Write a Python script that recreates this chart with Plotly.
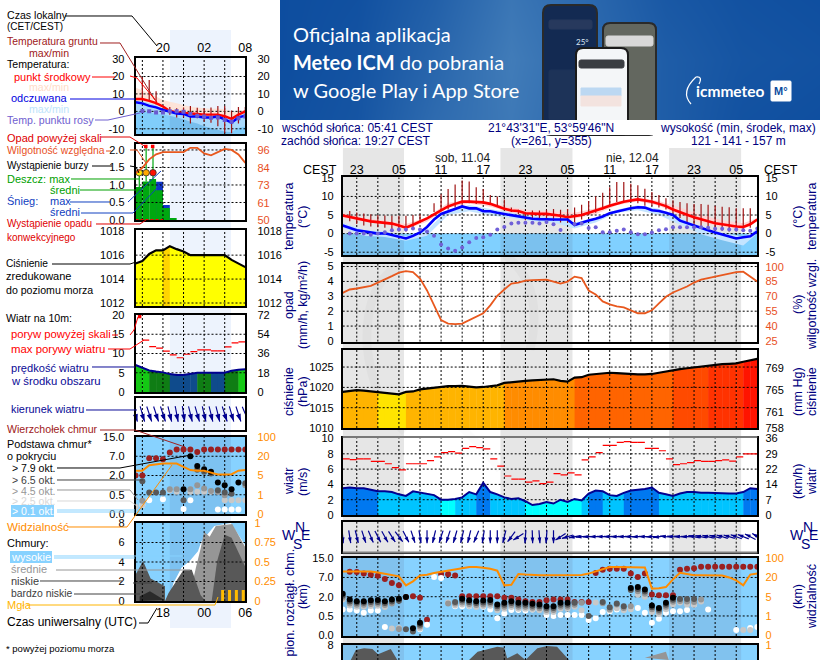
import math

import plotly.graph_objects as go

W, H = 820, 660
FONT = "Liberation Sans"
NAVY = "#000080"
ORANGE = "#ff8c00"
RH_RED = "#e8501e"

# ---- data, right (main) meteogram, hourly, local time from 21:00 on 10.04
hours = list(range(-3, 57))
temp_mid = [4.9, 4.5, 4.0, 3.7, 3.3, 3.1, 3.0, 2.7, 2.2, 1.6, 2.4, 3.2, 4.1, 5.2, 6.3, 7.3, 8.0, 8.6, 8.6, 8.5,
            8.4, 8.0, 7.3, 6.7, 6.2, 6.1, 5.5, 5.3, 5.3, 5.3, 5.1, 4.8, 4.4, 4.6, 5.0, 5.6, 6.1, 6.8, 7.5, 8.1,
            8.6, 8.9, 9.2, 8.9, 8.6, 8.0, 7.4, 6.5, 5.7, 5.1, 4.4, 3.8, 3.3, 2.8, 2.5, 2.1, 1.9, 1.8, 2.5, 3.8]
temp_feel = [2.2, 1.6, 0.9, 0.6, 0.3, 0.0, 0.1, -0.3, -0.9, -1.3, -0.6, 0.3, 1.8, 3.8, 5.3, 6.0, 6.8, 7.3, 6.8, 6.8,
             6.0, 6.0, 5.6, 5.3, 5.0, 4.6, 4.2, 4.0, 3.9, 3.8, 3.8, 3.8, 3.8, 2.3, 3.0, 3.5, 4.0, 4.6, 5.5, 6.0,
             6.5, 6.8, 7.1, 7.0, 6.3, 6.1, 5.6, 5.0, 3.5, 2.8, 2.2, 1.5, 0.9, 0.3, -0.2, -0.8, -1.3, -1.0, -0.7, 0.6]
band_t = [-3, 0, 3, 6, 9, 12, 15, 18, 21, 24, 27, 30, 33, 36, 39, 42, 45, 48, 51, 54, 56]
red_hi = [5.6, 4.2, 3.5, 2.6, 4.4, 8.3, 9.0, 8.3, 7.0, 6.2, 6.0, 5.6, 6.8, 8.6, 9.8, 8.8, 7.0, 5.0, 3.6, 2.8, 4.2]
red_lo = [4.3, 3.2, 2.5, 1.2, 3.2, 7.0, 8.1, 7.2, 5.7, 4.9, 4.3, 4.1, 5.2, 7.6, 8.7, 7.5, 5.0, 3.0, 1.8, 1.2, 3.3]
blue_hi = [2.9, 1.0, 0.6, -0.8, 1.0, 6.4, 7.7, 6.6, 5.6, 4.7, 4.4, 3.0, 4.2, 6.4, 7.6, 6.7, 4.3, 1.6, 0.2, -0.8, 1.2]
blue_lo = [1.5, -0.6, -0.9, -1.9, -0.6, 5.0, 6.0, 4.9, 4.2, 3.3, 3.0, 1.4, 3.0, 5.6, 6.3, 5.0, 2.4, -0.2, -1.8, -3.2, 0.0]
ground_max = [None, 6.1, 5.7, 5.4, 5.2, 5.0, 4.9, 4.8, 4.8, 4.8, 5.0, 5.2, None, 8.2, 10.6, 12.0, 13.2, 14.3, 14.0, 12.5,
              12.0, 10.4, 10.0, 9.2, 7.0, 6.4, 5.8, 6.2, 6.2, 6.4, 6.6, 6.4, 6.6, 7.0, 7.8, 8.8, 10.0, 11.0, 12.5, 13.9,
              13.9, 13.4, 13.0, 12.1, 11.2, 10.4, 9.5, 9.0, 8.5, 8.2, 8.0, 8.0, 7.8, 7.5, 7.2, 7.1, 6.8, 6.8, 6.8, None]
ground_min = [None, 3.3, 2.6, 2.2, 1.9, 1.7, 1.6, 1.2, 0.6, 0.6, 1.6, 3.0, None, 5.8, 6.2, 6.5, 7.0, 7.8, 8.2, 8.0,
              8.0, 8.0, 7.5, 6.6, 5.8, 5.2, 3.6, 4.0, 4.0, 3.6, 3.4, 3.0, 2.9, 3.0, 3.8, 5.0, 5.6, 6.5, 7.5, 8.5,
              8.6, 8.6, 8.2, 7.5, 7.5, 7.0, 6.5, 5.5, 4.2, 3.0, 2.2, 1.8, 1.5, 1.0, 0.8, 0.6, 0.6, 0.6, 1.6, None]
dew_point = [None, 0.0, 0.0, 0.0, -0.3, 0.0, 0.4, 0.9, 1.1, 1.1, 1.4, 1.1, 0.6, -0.6, -2.9, -4.0, -4.6, -3.7, -2.3, -1.2,
             -1.0, -0.3, 1.1, 1.8, 2.7, 2.9, 2.9, 2.9, 2.7, 3.1, 2.5, 1.0, None, 2.6, 2.7, 1.5, 1.7, 0.4, 0.4, 0.8,
             1.1, 0.4, -0.2, -0.2, 0.3, 0.9, 1.2, 1.7, 1.7, 1.7, 1.7, 1.7, 1.6, 1.3, 1.3, 1.1, 1.1, 0.9, 0.8, 1.4]
humidity = [73.6, 77, 78, 79, 80.7, 84, 87, 90.5, 94, 95.6, 94.6, 88, 76, 61, 46, 42.6, 42, 42.6, 46, 49,
            53, 61, 70.6, 77, 83, 84, 86, 86.5, 87, 87, 85, 83, 85, 90, 88.5, 76, 72, 65, 62, 60,
            59, 56, 53, 53, 56, 63, 69.6, 74, 77, 80, 84, 87, 88.5, 90, 91.6, 93, 94.6, 95, 90, 85]
pressure = [1018.9, 1019.1, 1019.3, 1019.2, 1019.0, 1018.8, 1018.7, 1018.5, 1018.3, 1018.9, 1019.0, 1019.5, 1019.7, 1019.9, 1020.2, 1020.3, 1020.3, 1020.4, 1020.2, 1020.0,
            1020.1, 1020.3, 1020.5, 1021.1, 1021.3, 1021.5, 1021.6, 1021.7, 1021.8, 1022.0, 1022.0, 1021.6, 1021.4, 1022.4, 1022.5, 1023.1, 1023.3, 1023.5, 1023.6, 1023.5,
            1023.4, 1023.2, 1023.2, 1023.2, 1023.3, 1023.6, 1023.9, 1024.3, 1024.5, 1024.7, 1024.9, 1025.2, 1025.4, 1025.5, 1025.7, 1025.8, 1025.9, 1026.3, 1026.7, 1027.0]
wind = [3.5, 3.6, 3.5, 3.5, 3.3, 3.1, 3.1, 3.0, 2.7, 2.5, 3.1, 2.9, 2.7, 2.6, 2.0, 2.0, 2.1, 2.3, 3.0, 2.7,
        4.2, 3.0, 2.7, 2.3, 2.1, 2.2, 1.8, 1.3, 1.45, 1.7, 1.5, 2.0, 1.7, 2.1, 1.9, 2.8, 3.2, 3.1, 2.6, 2.5,
        2.9, 3.2, 3.3, 3.4, 3.6, 2.9, 2.7, 2.5, 2.8, 3.0, 3.0, 2.9, 2.9, 2.9, 2.85, 2.8, 2.8, 3.0, 3.5, 3.4]
gust = [7.35, 7.25, 7.35, 7.35, 7.0, 7.0, 6.7, 6.2, 5.9, 6.7, 6.7, 6.7, 7.1, 7.6, 8.15, 8.3, 8.1, 8.7, 8.95, 8.8,
        8.65, 7.35, 6.4, 5.1, 4.7, 4.7, 4.3, 4.45, 4.1, 4.3, 5.4, 5.25, 5.5, 5.25, 7.2, 7.6, 8.15, 9.1, 9.1, 9.5,
        9.6, 9.5, 9.5, 8.7, 8.7, 8.4, 7.35, 6.6, 6.7, 6.85, 7.1, 7.0, 7.0, 7.1, 7.2, 7.05, 7.6, 8.0, 8.0]
wind_dir = [175, 170, 165, 160, 155, 150, 148, 145, 140, 150, 160, 170, 180, 195, 200, 200, 198, 195, 195, 205,
            190, 180, 180, 195, 220, 240, 185, 178, 175, 185, 180, 240, 255, 260, 265, 268, 270, 272, 272, 272,
            272, 272, 270, 272, 270, 262, 275, 275, 275, 272, 280, 280, 282, 282, 285, 285, 288, 290, 295, 300]
cloud_top = [None, 3.3, 3.28, 3.21, 3.14, 3.09, 2.92, 2.71, 2.59, 1.99, 2.03, 1.94, 0.81, None, 3.18, 3.16, 3.1, 2.03, 2.03, 2.03,
             2.03, 2.03, 2.03, 1.94, 1.94, 1.85, 1.77, 1.72, 1.72, 1.82, 1.85, 1.85, 1.85, 1.72, 1.72, 1.72, 3.23, 3.4, 3.45, 3.45,
             3.45, 3.2, 3.02, 3.2, 2.11, 2.07, 2.07, 2.07, 3.4, 3.45, 3.48, 3.55, 3.55, 3.55, 3.55, 3.55, 3.55, 3.55, 3.55, 3.55]
base_79 = [2.15, 1.85, 1.77, 1.77, 1.82, 1.83, 1.77, 1.85, 1.89, 1.99, 0.36, 0.65, None, None, None, None, None, 1.89, 1.82, 1.77,
           1.8, 1.83, 1.6, 1.68, 1.77, 1.68, 1.68, 1.63, 1.6, 1.51, 1.51, 1.68, 1.68, None, None, None, None, None, None, None,
           None, 2.45, 2.5, 2.37, 1.55, 1.42, 1.68, 1.94, None, None, None, None, None, None, None, None, None, None, None, None]
base_65 = [2.05, 1.75, 1.68, 1.68, 1.72, 1.73, 1.67, 1.75, 1.79, 0.31, 0.2, 0.55, None, None, None, None, 1.73, 1.8, 1.72, 1.67,
           1.7, 1.73, 1.5, 1.58, 1.67, 1.58, 1.58, 1.53, 1.5, 1.41, 1.41, 1.58, 1.58, 1.68, None, 1.0, None, 1.72, 1.45, 1.65,
           1.5, 2.35, 2.4, 2.27, 1.45, 1.32, 1.58, 1.84, 1.88, 1.88, 1.88, None, None, None, None, None, None, None, None, None]
base_45 = [1.95, 1.65, 1.58, 1.58, 1.62, 1.63, 1.57, 1.65, 0.32, None, None, 0.45, None, None, None, 1.65, 1.65, 1.7, 1.62, 1.57,
           1.6, 1.63, 1.4, 1.48, 1.57, 1.48, 1.48, 1.43, 1.4, 1.31, 1.31, 1.48, 1.48, 1.58, 1.68, None, None, 1.66, 1.35, 1.6,
           1.42, 1.5, 2.28, 2.15, 1.35, 1.22, 1.48, 1.74, 1.78, 1.75, 1.72, 1.85, None, None, None, None, None, None, None, None]
base_25 = [1.85, 1.55, 1.48, 1.48, 1.52, 1.53, 1.47, 0.35, 0.38, None, None, 0.35, None, None, None, 1.7, 1.55, 1.6, 1.52, 1.47,
           1.5, 1.53, 1.3, 1.38, 1.47, 1.38, 1.38, 1.33, 1.3, 1.21, 1.21, 1.38, 1.38, 1.48, 1.3, None, 1.7, None, 1.3, 1.4,
           1.3, 1.35, 2.1, 2.0, 1.2, 1.1, 1.35, 1.6, 1.7, 1.6, 1.6, 1.75, None, None, None, None, None, 0.27, 0.27, None]
base_01 = [1.34, 1.34, 1.29, 1.17, 1.29, 1.29, 0.43, None, None, None, None, 0.31, 0.55, 3.02, 2.97, None, 1.51, 1.51, 1.51, 1.51,
           1.48, 1.34, 0.88, 1.13, 1.31, 1.31, 1.29, 1.34, 1.34, 1.05, 1.0, 1.05, 1.05, 1.05, 1.05, 0.79, 0.88, 1.2, 1.25, 1.34,
           1.34, 1.42, 1.42, 1.17, 0.65, 0.86, 1.17, 1.25, 1.25, 1.31, 1.6, None, 1.34, None, None, None, 0.27, None, 0.38, 0.43]
visibility = [3.31, 3.31, 3.31, 3.31, 3.31, 3.26, 3.2, 3.13, 3.06, 2.59, 2.8, 3.1, 3.14, 3.23, 3.3, 3.37, 3.43, 3.48, 3.54, 3.54,
              3.5, 3.45, 3.35, 2.59, 2.62, 3.18, 3.15, 3.12, 3.12, 3.12, 3.12, 3.12, 3.13, 3.13, 3.13, 3.2, 3.31, 3.42, 3.54, 3.54,
              3.54, 3.54, 3.52, 3.52, 2.42, 2.44, 2.5, 2.9, 3.24, 3.18, 3.12, 3.12, 3.12, 3.12, 3.1, 3.0, 2.85, 2.59, 3.15, 3.2]
cloud_a_t = [-1.85, -1.14, 0.04, 1.23, 2.03, 3.84, 4.78]
cloud_a_v = [6.46, 7.49, 7.66, 7.59, 7.04, 7.59, 6.46]
cloud_b_t = [14.98, 16.2, 19, 20, 20.4, 21.85, 23, 24.7, 26.1, 27.5, 29.2]
cloud_b_v = [6.46, 7.3, 7.83, 7.72, 6.63, 7.15, 6.46, 7.66, 7.9, 7.83, 6.46]
cloud_c_t = [40, 41, 43, 43.4]
cloud_c_v = [6.7, 6.9, 7.3, 6.46]

# ---- data, left (short) meteogram, hourly, UTC
l_hours = list(range(14, 31))
l_temp = [7.1, 7.1, 6.0, 4.7, 2.8, 0.2, -0.6, -0.8, -1.0, -1.5, -1.9, -1.9, -1.9, -2.8, -4.3, -1.9, 0.0]
l_feel = [5.2, 4.6, 3.1, 2.3, 0.8, -0.2, -1.2, -1.5, -3.0, -3.0, -3.5, -3.5, -3.0, -4.6, -6.5, -3.5, -2.5]
l_temp_hi = [13.7, 12.0, 10.4, 8.5, 6.5, 5.5, 4.6, 3.6, 2.7, 2.2, 1.8, 1.5, 1.6, 1.0, -0.2, 0.2, 0.8]
l_temp_lo = [6.0, 5.8, 4.8, 3.5, 1.5, -0.3, -1.2, -1.5, -1.8, -2.2, -2.6, -2.8, -2.8, -3.6, -5.2, -3.0, -1.0]
l_feel_lo = [0.5, 0.0, -0.5, -1.5, -1.8, -2.5, -3.5, -4.5, -6.0, -7.0, -8.5, -9.5, -10.5, -11.5, -12.0, -9.5, -8.5]
l_ground_max = [None, 19.5, 18.0, 11.5, None, 2.5, 1.8, 2.2, 3.0, 2.0, 1.8, 2.2, 3.0, 3.0, 0.5, 2.5, 2.5]
l_ground_min = [None, 7.0, 6.0, 4.0, None, -2.0, -3.5, -3.5, -7.0, -4.0, -6.0, -6.5, -8.5, -12.5, -12.5, -7.0, -3.0]
l_dew = [None, 0.2, 0.0, -0.7, -0.7, 0.0, 0.0, -0.3, -1.5, -2.5, -3.0, -3.7, -3.5, -5.0, -6.0, -4.0, -3.0]
l_rain_mean = [0.94, 1.1, 1.17, 0.85, 0.34, 0.06]
l_snow_mean = [0.0, 0.0, 0.0, 1.09, 0.43, 0.0]
l_over_t = [15.5, 16.5]
l_over_v = [2.1, 2.1]
l_storm_t = [14.55, 15.55, 16.55]
l_storm_y = [1.35, 1.35, 1.35]
l_humidity = [80.6, 84.3, 89.8, 93.1, 94.6, 94.6, 94.6, 94.6, 97.4, 97.4, 93.7, 92.5, 94.6, 96.7, 96.0, 93.0, 87.5]
l_pressure = [1015.3, 1015.5, 1016.1, 1016.4, 1016.4, 1016.75, 1016.5, 1016.3, 1016.0, 1016.0, 1016.0, 1016.0, 1016.0, 1016.0, 1015.6, 1015.3, 1015.0]
l_wind = [7.0, 6.4, 5.6, 5.3, 5.1, 4.65, 4.4, 4.4, 4.7, 5.0, 5.0, 5.0, 5.0, 5.0, 5.5, 5.8, 5.9]
l_gust = [None, 13.5, 11.8, 11.4, 10.6, 9.65, 8.9, 9.8, 10.5, 10.95, 10.95, 10.7, 10.7, 11.7, 12.75, 13.0]
l_wind_dir = [165, 162, 160, 160, 160, 165, 168, 170, 165, 162, 165, 165, 165, 160, 162, 160, 155]
l_top = [2.0, 2.0, 2.9, 2.9, 2.85, 3.2, 3.35, 3.35, 3.35, 3.22, 3.35, 3.35, 3.35, 3.35, 3.35, 3.35, 3.35]
l_79 = [None, None, None, None, None, None, None, 1.28, 3.0, 2.5, 2.33, 2.2, 1.64, 1.5, 1.28, 1.64, None]
l_65 = [None, 1.7, 1.12, 1.12, 1.12, None, None, 0.72, None, 2.3, 2.2, 2.1, 1.24, 1.12, 1.05, None, 1.6]
l_45 = [None, 0.69, None, None, None, 1.28, 1.28, None, 1.28, 1.5, 1.33, 1.2, 1.16, 0.98, None, None, 1.5]
l_25 = [0.38, 0.47, None, None, None, 1.24, 1.16, None, 1.16, 1.16, 1.16, 1.16, 1.16, 0.72, 0.72, 0.72, 0.72]
l_01 = [None, 0.47, 0.72, None, 0.76, None, None, 0.26, 0.72, None, None, None, 0.24, 0.24, 0.24, 0.24, None]
l_vis = [2.25, 2.25, 2.53, 2.58, 2.62, 2.62, 2.62, 2.45, 2.28, 2.25, 2.25, 2.15, 2.05, 2.05, 2.07, 2.25, 2.28]
l_high_t = [21.9, 18.9, 19.5, 20.7, 21.9, 23.1, 23.6, 25.5, 27.9, 30, 30]
l_high_v = [0, 0, 1.8, 3.4, 4.1, 5.1, 6.1, 7.7, 8, 5.7, 0]
l_mid_t = [21.7, 22.8, 23.5, 24, 24.8, 25.7, 28.1, 30, 30]
l_mid_v = [0, 3.4, 5.4, 7.1, 6.6, 7.7, 7.9, 5.5, 0]
l_low1_t = [14, 15.1, 16.2, 18.3, 18.3, 14]
l_low1_v = [2.7, 4.1, 2.3, 1.5, 0, 0]
l_low2_t = [18.3, 18.8, 21, 22.2, 23.5, 24.2]
l_low2_v = [0, 0.8, 3.2, 3.2, 0.6, 0]
l_low3_t = [25.1, 25.9, 27, 28, 30, 30]
l_low3_v = [0, 4.1, 6.8, 6.5, 3.5, 0]
l_vlow_t = [14.6, 16.1, 18.2, 14.6]
l_vlow_v = [0.45, 1.0, 0.1, 0]
l_fog_t = [26.7, 27.7, 28.7, 29.7]
l_fog_v = [1.13, 1.13, 1.13, 1.13]

# ---- tick labels
l_temp_ticks = [30, 20, 10, 0, -10]
l_rain_ticks = [2.0, 1.5, 1.0, 0.5, 0.0]
l_rh_ticks = [96, 84, 73, 61, 50]
l_press_ticks = [1018, 1016, 1014, 1012]
l_wind_ticks = [20, 15, 10, 5, 0]
l_kmh_ticks = [72, 54, 36, 18, 0]
cb_levels = [4, 3, 2, 1, 0]
cb_km = ["15.0", "7.0", "2.0", "0.5", "0.0"]
vis_km = ["100", "20", "5", "1", "0"]
cl_ticks = [8, 6, 4, 2, 0]
cl_right = ["1", "0.75", "0.5", "0.25", "0"]
r_temp_ticks = [15, 10, 5, 0, -5]
r_rain_ticks = [5, 4, 3, 2, 1, 0]
r_rh_ticks = [100, 85, 70, 55, 40, 25]
r_press_ticks = [1025, 1020, 1015, 1010]
r_mmhg = ["769", "765", "761", "758"]
r_wind_ticks = [10, 8, 6, 4, 2, 0]
r_kmh = ["36", "29", "22", "14", "7", "0"]
hour_t = [-1, 5, 11, 17, 23, 29, 35, 41, 47, 53]
hour_lab = ["23", "05", "11", "17", "23", "05", "11", "17", "23", "05"]

# ---- page geometry
LX0, LX1 = 135.5, 245.3
RX0, RX1 = 342.7, 757.3
LR, RR = [14, 30], [-3, 56]
L_GRID = [15, 18, 21, 24, 27]
R_GRID = list(range(-1, 56, 3))
NIGHTS = [(-3, 5.72), (19.45, 29.7), (43.45, 53.7)]

fig = go.Figure()
layout = {}
shapes = []
notes = []


def px(x):
    return x / W


def py(y):
    return 1 - y / H


def panel(n, left, right, top, bottom, xr, yr, ticks=(), labels=None, rticks=None, rlabels=None,
          rr=None, rcolor="black", xticks=(), xlabels=(), xside="bottom", pad=6, rpad=6, xshift=-3):
    edge = dict(showline=True, linecolor="black", linewidth=1.6, mirror=True, automargin=False)
    layout[f"xaxis{n}"] = dict(domain=[px(left), px(right)], range=xr, anchor=f"y{n}", showgrid=False, zeroline=False,
                               tickvals=list(xticks), ticktext=list(xlabels), side=xside, ticks="", ticklabelstandoff=xshift,
                               tickfont=dict(size=12.5), **edge)
    layout[f"yaxis{n}"] = dict(domain=[max(py(bottom), 0), py(top)], range=yr, anchor=f"x{n}", showgrid=False, zeroline=False,
                               tickvals=list(ticks), ticktext=labels if labels else [str(v) for v in ticks], ticks="outside",
                               ticklen=pad, tickcolor="rgba(0,0,0,0)", tickfont=dict(size=11), **edge)
    if rticks is not None:
        layout[f"yaxis{n + 20}"] = dict(overlaying=f"y{n}", side="right", range=rr if rr else yr, anchor=f"x{n}", showgrid=False,
                                        zeroline=False, automargin=False, tickvals=list(rticks),
                                        ticktext=rlabels if rlabels else [str(v) for v in rticks],
                                        ticks="outside", ticklen=rpad, tickcolor="rgba(0,0,0,0)", tickfont=dict(size=11, color=rcolor))
        fig.add_trace(go.Scatter(x=[None], y=[None], xaxis=f"x{n}", yaxis=f"y{n + 20}", showlegend=False))


def line(n, x, y, color, width=2, yn=None, dash=None):
    fig.add_trace(go.Scatter(x=x, y=y, mode="lines", xaxis=f"x{n}", yaxis=f"y{yn or n}", showlegend=False, hoverinfo="skip",
                             line=dict(color=color, width=width, dash=dash)))


def area(n, x, y, color):
    fig.add_trace(go.Scatter(x=x, y=y, mode="none", fill="toself", fillcolor=color, xaxis=f"x{n}", yaxis=f"y{n}",
                             showlegend=False, hoverinfo="skip"))


def dots(n, x, y, color, size=6, symbol="circle"):
    fig.add_trace(go.Scatter(x=x, y=y, mode="markers", xaxis=f"x{n}", yaxis=f"y{n}", showlegend=False, hoverinfo="skip",
                             marker=dict(color=color, size=size, symbol=symbol, line=dict(width=0))))


def grid(n, xs, ys, xr, yr):
    gx, gy = [], []
    for v in xs:
        gx += [v, v, None]
        gy += [yr[0], yr[1], None]
    for v in ys:
        gx += [xr[0], xr[1], None]
        gy += [v, v, None]
    line(n, gx, gy, "black", 1, dash="2px,2px")


def rect(n, x0, x1, y0, y1, color, layer="below"):
    shapes.append(dict(type="rect", xref=f"x{n}", yref=f"y{n}", x0=x0, x1=x1, y0=y0, y1=y1, fillcolor=color,
                       line=dict(width=0), layer=layer))


def note(x, y, text, color="black", size=10.6, anchor="left", angle=0, bg=None, family=FONT, yanchor="middle"):
    notes.append(dict(x=px(x), y=py(y), xref="paper", yref="paper", text=text, showarrow=False, xanchor=anchor, yanchor=yanchor,
                      textangle=angle, font=dict(color=color, size=size, family=family), bgcolor=bg, borderpad=0))


def lead(pts, color="black", width=1):
    d = "M" + " L".join(f"{px(x):.5f},{py(y):.5f}" for x, y in pts)
    shapes.append(dict(type="path", path=d, xref="paper", yref="paper", line=dict(color=color, width=width), layer="above"))


def page_rect(x0, y0, x1, y1, color):
    shapes.append(dict(type="rect", xref="paper", yref="paper", x0=px(x0), x1=px(x1), y0=py(y0), y1=py(y1),
                       fillcolor=color, line=dict(width=0), layer="above"))


def rrect(x0, y0, x1, y1, r, fill, edge=None, lw=1):
    a, b, c, d = px(x0), px(x1), py(y0), py(y1)
    rx, ry = r / W, r / H
    path = (f"M{a + rx},{c} L{b - rx},{c} Q{b},{c} {b},{c - ry} L{b},{d + ry} Q{b},{d} {b - rx},{d} "
            f"L{a + rx},{d} Q{a},{d} {a},{d + ry} L{a},{c - ry} Q{a},{c} {a + rx},{c} Z")
    shapes.append(dict(type="path", path=path, xref="paper", yref="paper", fillcolor=fill, layer="above",
                       line=dict(color=edge or fill, width=lw)))


def curve(pts, color, width, layer="below"):
    # quadratic arc through page pixels, for the faint logo swirls
    (x0, y0), (x1, y1), (x2, y2) = pts
    d = f"M{px(x0)},{py(y0)} Q{px(x1)},{py(y1)} {px(x2)},{py(y2)}"
    shapes.append(dict(type="path", path=d, xref="paper", yref="paper", line=dict(color=color, width=width), layer=layer))


def arrows(n, ts, dirs, half, xscale, head, color="#000090", width=1.2):
    lx, ly, hx, hy = [], [], [], []
    for t, d in zip(ts, dirs):
        s, c = math.sin(math.radians(d)), math.cos(math.radians(d))
        x1, y1 = t + s * half * xscale, c * half
        lx += [t - s * half * xscale, x1, None]
        ly += [-c * half, y1, None]
        hx.append(x1)
        hy.append(y1)
    fig.add_trace(go.Scatter(x=lx, y=ly, mode="lines", xaxis=f"x{n}", yaxis=f"y{n}", showlegend=False, hoverinfo="skip",
                             cliponaxis=False, line=dict(color=color, width=width)))
    fig.add_trace(go.Scatter(x=hx, y=hy, mode="markers", xaxis=f"x{n}", yaxis=f"y{n}", showlegend=False, hoverinfo="skip", cliponaxis=False,
                             marker=dict(color=color, size=head, symbol="arrow", angle=list(dirs), angleref="up", line=dict(width=0))))


# ---- paper background: night bands behind everything
shapes.append(dict(type="rect", xref="paper", yref="paper", x0=px(170), x1=px(231), y0=py(30), y1=py(628),
                   fillcolor="#edf3fd", line=dict(width=0), layer="below"))
for a, b in NIGHTS:
    shapes.append(dict(type="rect", xref="x8", yref="paper", x0=a, x1=b, y0=0, y1=py(148),
                       fillcolor="#e6e6e6", line=dict(width=0), layer="below"))
curve([(367, 345), (365, 280), (405, 262)], "rgba(0,0,0,0.025)", 9)
curve([(367, 345), (372, 400), (405, 432)], "rgba(0,0,0,0.025)", 9)
curve([(505, 255), (545, 285), (530, 350)], "rgba(0,0,0,0.025)", 9)
curve([(405, 395), (455, 410), (500, 470)], "rgba(0,0,0,0.015)", 8)

# ---- banner
fig.add_trace(go.Heatmap(z=[[0.05, 0.15, 0.55, 0.8, 0.5, 0.3, 0.1, 0.05], [0.02, 0.12, 0.45, 0.85, 0.55, 0.3, 0.15, 0.1],
                            [0.02, 0.08, 0.35, 0.75, 0.5, 0.22, 0.1, 0.05]],
                         x=[280, 357, 434, 511, 588, 665, 742, 820], y=[120, 60, 0], zsmooth="best", showscale=False,
                         hoverinfo="skip", colorscale=[[0, "#0c4c9e"], [1, "#4a84bd"]], zmin=0, zmax=1, xaxis="x40", yaxis="y40"))
layout["xaxis40"] = dict(domain=[px(280), 1], range=[280, 820], visible=False, anchor="y40", automargin=False)
layout["yaxis40"] = dict(domain=[py(120), 1], range=[120, 0], visible=False, anchor="x40", automargin=False)
rrect(543, 5, 597, 135, 8, "#132a52", "#2a2a2a", 2)
rrect(549, 20, 592, 29, 2, "#27395d")
rrect(549, 70, 592, 120, 2, "#1d3358")
rrect(603, 23, 656, 135, 7, "#63675f", "#2a2a2a", 2)
rrect(606, 36, 653, 46, 2, "#d8d8d8")
rrect(576, 48, 628, 135, 7, "#f4f6f8", "#1b1b1b", 2)
rrect(579, 60, 624, 68, 2, "#3a3d42")
rrect(581, 88, 621, 96, 0, "#bcd8f2")
rrect(581, 96, 621, 106, 0, "#f3e3df")
rrect(771, 81, 791, 101, 1, "#ffffff")
curve([(691, 104), (680, 92), (696, 77)], "white", 1.2, "above")
curve([(696, 77), (703, 76), (699, 84)], "white", 1.2, "above")
page_rect(280, 120, 820, 135, "white")

# ---- right meteogram panels
panel(8, RX0, RX1, 177.3, 255, RR, [-5.75, 15.15], r_temp_ticks, None, r_temp_ticks, None, pad=5, rpad=5,
      xticks=hour_t, xlabels=hour_lab, xside="top")
panel(9, RX0, RX1, 264, 341.7, RR, [-0.05, 5.17], r_rain_ticks, None, r_rh_ticks, None, rr=[24.25, 102.75], rcolor=RH_RED, pad=5, rpad=5)
panel(10, RX0, RX1, 350, 428, RR, [1010, 1029.2], r_press_ticks, None, [769, 765, 761, 758], r_mmhg, rr=[758, 772.4], pad=5, rpad=5)
panel(11, RX0, RX1, 438.3, 515, RR, [0, 10.03], r_wind_ticks, None, r_wind_ticks, r_kmh, pad=5, rpad=5)
panel(12, RX0, RX1, 521.7, 551.7, RR, [-15, 15])
panel(13, RX0, RX1, 558, 636, RR, [-0.04, 4.01], cb_levels, cb_km, cb_levels, vis_km, rcolor=ORANGE, pad=5, rpad=5)
panel(14, RX0, RX1, 645, 660, RR, [6.46, 8.0], [8], ["8"], [8], ["1"], rcolor=ORANGE, pad=5, rpad=5)

# ---- left meteogram panels
panel(1, LX0, LX1, 57.5, 134, LR, [-13, 30.9], l_temp_ticks, None, l_temp_ticks, None, pad=7, rpad=9,
      xticks=[18, 24, 30], xlabels=["20", "02", "08"], xside="top", xshift=-1)
panel(2, LX0, LX1, 144, 220, LR, [0, 2.17], l_rain_ticks, ["2.0", "1.5", "1.0", "0.5", "0.0"], l_rh_ticks, None,
      rr=[50, 99.9], rcolor=RH_RED, pad=7, rpad=9)
panel(3, LX0, LX1, 230, 306, LR, [1011.75, 1018.1], l_press_ticks, None, l_press_ticks, None, pad=7, rpad=9)
panel(4, LX0, LX1, 315, 392, LR, [0, 20], l_wind_ticks, None, l_wind_ticks, [str(v) for v in l_kmh_ticks], pad=7, rpad=9)
panel(5, LX0, LX1, 398, 430, LR, [-16, 16])
panel(6, LX0, LX1, 437, 514, LR, [0, 4.0], cb_levels, cb_km, cb_levels, vis_km, rcolor=ORANGE, pad=7, rpad=9)
panel(7, LX0, LX1, 523, 601, LR, [0, 8], cl_ticks, None, cl_ticks, cl_right, rcolor=ORANGE, pad=7, rpad=6,
      xticks=[18, 24, 30], xlabels=["18", "00", "06"], xshift=-1)

# R1 temperature
rect(8, -3, 56, -5.75, 0, "#80d0ff")
for a, b in NIGHTS:
    rect(8, a, b, -5.75, 0, "rgba(90,90,120,0.13)")
area(8, band_t + band_t[::-1], red_hi + red_lo[::-1], "#ffd4d4")
area(8, band_t + band_t[::-1], blue_hi + blue_lo[::-1], "#c4e4ff")
grid(8, R_GRID, [10, 5, 0, -5], RR, [-5.75, 15.15])
gx, gy = [], []
for t, a, b in zip(hours, ground_max, ground_min):
    if a is not None:
        gx += [t, t, None]
        gy += [a, b, None]
line(8, gx, gy, "#a01414", 1.2)
line(8, hours, temp_mid, "#ff0000", 2.6)
line(8, hours, temp_feel, "#0000ff", 2.6)
dots(8, hours, dew_point, "#7060d8", 4)

# R2 humidity
grid(9, R_GRID, r_rain_ticks[:-1], RR, [-0.05, 5.17])
line(9, hours, humidity, "#e8581e", 1.8, yn=29)

# R3 pressure
p_steps = [(1018.85, "#ffe400"), (1020.9, "#ffb400"), (1022.3, "#ff8c00"), (1024, "#ff6400"),
           (1025.3, "#ff4a00"), (1026, "#ff3200"), (2000, "#ff1400")]
for i in range(len(hours) - 1):
    col = next(c for lim, c in p_steps if pressure[i] < lim)
    right = hours[i + 1] + (0.06 if i < len(hours) - 2 else 0)
    area(10, [hours[i], right, right, hours[i]], [1010, 1010, pressure[i + 1], pressure[i]], col)
grid(10, R_GRID, [1025, 1020, 1015], RR, [1010, 1029.2])
line(10, hours, pressure, "black", 2.2)

# R4 wind
for i in range(len(hours) - 1):
    top = max(wind[i], wind[i + 1])
    col = "#00ffff" if top < 2.15 else "#00c4ff" if top < 3.15 else "#0078f0"
    right = hours[i + 1] + (0.06 if i < len(hours) - 2 else 0)
    area(11, [hours[i], right, right, hours[i]], [0, 0, wind[i + 1], wind[i]], col)
grid(11, R_GRID, [8, 6, 4, 2], RR, [0, 10.03])
line(11, hours, wind, "#000090", 2)
gx, gy = [], []
for t, v in zip(hours, gust):
    gx += [t, t + 1, None]
    gy += [v, v, None]
line(11, gx, gy, "#ff0000", 1.2)

# R5 wind direction
grid(12, R_GRID, [], RR, [-15, 15])
arrows(12, hours, wind_dir, 6.5, 1 / 7.03 * 0.9, 6)
lead([(RX0, 552.5), (RX1, 552.5)], "#808080", 2)
lead([(RX0, 437), (RX1, 437)], "#a0a0a0", 1.5)

# R6 cloud base
rect(13, -3, 56, -0.04, 4.01, "#87d2ff")
for a, b in NIGHTS:
    rect(13, a, b, -0.04, 4.01, "rgba(90,90,120,0.13)")
grid(13, R_GRID, [3, 2, 1], RR, [-0.04, 4.01])
dots(13, hours, cloud_top, "#9b2020")
dots(13, hours, base_01, "white")
dots(13, hours, base_25, "#c8c8c8")
dots(13, hours, base_45, "#969696")
dots(13, hours, base_65, "#585858")
dots(13, hours, base_79, "black")
line(13, hours, visibility, ORANGE, 2)

# R7 clouds
rect(14, -3, 56, 6.46, 8, "#87d2ff")
for a, b in NIGHTS:
    rect(14, a, b, 6.46, 8, "rgba(90,90,120,0.13)")
area(14, cloud_a_t, cloud_a_v, "#585858")
area(14, cloud_b_t, cloud_b_v, "#585858")
area(14, cloud_c_t, cloud_c_v, "#969696")
grid(14, R_GRID, [], RR, [6.46, 8])

# L1 temperature
rect(1, 14, 30, -13, 0, "#80cdfb")
rect(1, 19, 27.9, -13, 0, "rgba(60,80,140,0.12)")
area(1, l_hours + l_hours[::-1], l_temp_hi + l_temp_lo[::-1], "#fde3d8")
area(1, l_hours + l_hours[::-1], l_temp_lo + l_feel_lo[::-1], "#a9d9fb")
grid(1, L_GRID, [20, 10, 0, -10], LR, [-13, 30.9])
gx, gy = [], []
for t, a, b in zip(l_hours, l_ground_max, l_ground_min):
    if a is not None:
        gx += [t, t, None]
        gy += [a, b, None]
line(1, gx, gy, "#a01414", 1.2)
line(1, l_hours, l_temp, "#ff0000", 2.4)
line(1, l_hours, l_feel, "#0000ff", 2.4)
dots(1, l_hours, l_dew, "#6a5ad0", 4, "square")

# L2 precipitation
bin_mid = [h + 0.5 for h in l_hours[:6]]
fig.add_trace(go.Bar(x=bin_mid, y=l_snow_mean, width=1, marker=dict(color="#1034c8", line=dict(width=0)), xaxis="x2", yaxis="y2", showlegend=False))
fig.add_trace(go.Bar(x=bin_mid, y=l_rain_mean, width=1, marker=dict(color="#00a810", line=dict(width=0)), xaxis="x2", yaxis="y2", showlegend=False))
grid(2, L_GRID, [2, 1.5, 1, 0.5], LR, [0, 2.17])
line(2, [14.55, 14.55, None, 15.55, 15.55, None, 16.55, 16.55], [1.35, 0.94, None, 2.1, 1.1, None, 2.1, 1.17], "#00a810", 1.2)
dots(2, l_over_t, l_over_v, "#ff0000", 3.5, "square")
fig.add_trace(go.Scatter(x=l_storm_t, y=l_storm_y, mode="markers", xaxis="x2", yaxis="y2", showlegend=False,
                         marker=dict(size=6.5, color=["#ffe800", "#ffa800", "#ff1000"], line=dict(color="#303030", width=0.8))))
line(2, [14, 18], [0.012, 0.012], "#ff0000", 1.4, dash="3px,2px")
line(2, l_hours, l_humidity, "#e8581e", 1.8, yn=22)

# L3 pressure
area(3, l_hours + [30, 14], l_pressure + [1011.75, 1011.75], "#ffff00")
area(3, [18, 19, 19, 18], [1011.75, 1011.75, l_pressure[5], l_pressure[4]], "#ffd400")
grid(3, L_GRID, [1016, 1014, 1012], LR, [1011.75, 1018.1])
line(3, l_hours, l_pressure, "black", 2.2)

# L4 wind
l_wind_cols = ["#14c814", "#14c814", "#0f7d14", "#0f7d14", "#0f7d14", "#0f4b8c", "#0f4b8c", "#0f4b8c", "#0f4b8c",
               "#0f7d14", "#0f7d14", "#0f4b8c", "#0f4b8c", "#0f7d14", "#0f7d14", "#14c814"]
for i in range(16):
    right = l_hours[i + 1] + (0.06 if i < 15 else 0)
    area(4, [l_hours[i], right, right, l_hours[i]], [0, 0, l_wind[i + 1], l_wind[i]], l_wind_cols[i])
grid(4, L_GRID, [15, 10, 5], LR, [0, 20])
line(4, l_hours, l_wind, "#000090", 2)
gx, gy = [], []
for t, v in zip(l_hours, l_gust):
    if v is not None:
        gx += [t, t + 1, None]
        gy += [v, v, None]
line(4, gx, gy, "#ff0000", 1.2)
dots(4, [14.6], [19.6], "#ff0000", 3.5, "square")

# L5 wind direction
grid(5, L_GRID, [], LR, [-16, 16])
arrows(5, l_hours, l_wind_dir, 8, 1 / 6.86 * 0.9, 8, width=1.1)

# L6 cloud base
rect(6, 14, 30, 0, 4, "#87d2ff")
rect(6, 19, 27.9, 0, 4, "rgba(60,80,140,0.12)")
grid(6, L_GRID, [3, 2, 1], LR, [0, 4])
dots(6, l_hours, l_top, "#9b2020")
dots(6, l_hours, l_01, "white")
dots(6, l_hours, l_25, "#c8c8c8")
dots(6, l_hours, l_45, "#969696")
dots(6, l_hours, l_65, "#585858")
dots(6, l_hours, l_79, "black")
line(6, l_hours, l_vis, ORANGE, 2)

# L7 clouds
rect(7, 14, 30, 0, 8, "#87d2ff")
rect(7, 19, 27.9, 0, 8, "rgba(60,80,140,0.12)")
area(7, l_high_t, l_high_v, "white")
area(7, l_mid_t, l_mid_v, "#969696")
area(7, l_low1_t, l_low1_v, "#585858")
area(7, l_low2_t, l_low2_v, "#585858")
area(7, l_low3_t, l_low3_v, "#585858")
area(7, l_vlow_t, l_vlow_v, "#2a2a2a")
grid(7, L_GRID, [6, 4, 2], LR, [0, 8])
gx, gy = [], []
for t, v in zip(l_fog_t, l_fog_v):
    gx += [t, t, None]
    gy += [0, v, None]
line(7, gx, gy, "#ffbb00", 3)

# ---- left column labels
note(6, 15, "Czas lokalny")
note(6, 26, "(CET/CEST)", size=10)
lead([(65, 16), (132, 16), (157, 46)])
note(6, 42, "Temperatura gruntu", "#a02020", 10.4)
note(28, 52.5, "max/min", "#a02020")
lead([(100, 43), (120, 43), (155, 100)], "#a02020")
note(6, 64, "Temperatura:")
note(13, 77, "punkt środkowy", "#ff0000", 11)
lead([(92, 77), (115, 77)], "#ff0000")
lead([(130, 76), (137, 78), (157, 102)], "#ff0000")
note(28, 87, "max/min", "#ffdcc8")
note(10, 98.5, "odczuwana", "#0000e0", 11)
lead([(70, 99), (135, 99)], "#0000e0")
note(28, 108.5, "max/min", "#bde3fb")
note(6, 120, "Temp. punktu rosy", "#7060d0")
lead([(95, 120), (108, 120), (140, 113)], "#7060d0")
note(6, 138, "Opad powyżej skali", "#e00000", 11)
lead([(101, 137), (130, 137), (146, 147)], "#e00000")
note(6, 151, "Wilgotność względna", RH_RED, 10.4)
lead([(106, 151), (111, 151)], RH_RED)
lead([(130, 150), (137, 150), (146, 163)], RH_RED)
note(6, 165, "Wystąpienie burzy", size=10)
lead([(92, 166), (112, 166)])
lead([(130, 166), (136, 167), (139, 173)])
note(6, 179, "Deszcz: max", "#00a000", 11)
lead([(71, 179), (139, 179)], "#00a000")
note(49, 190, "średni", "#00a000", 11)
lead([(80, 190), (140, 190)], "#00a000")
note(6, 201, "Śnieg:", "#1040c0", 11)
note(49, 201, "max", "#1040c0", 11)
lead([(70, 202), (111, 202)], "#1040c0")
lead([(128, 202), (161, 171)], "#1040c0")
note(49, 212, "średni", "#1040c0", 11)
lead([(81, 213), (133, 213), (160, 185)], "#1040c0")
note(6, 224, "Wystąpienie opadu", "#e00000", 10)
note(6, 237, "konwekcyjnego", "#e00000", 10)
lead([(96, 224), (140, 224), (146, 220)], "#e00000")
note(5, 263, "Ciśnienie", size=10.2)
lead([(52, 264), (130, 264), (136, 262)])
note(5, 276, "zredukowane", size=11)
note(5, 290, "do poziomu morza")
note(5, 318, "Wiatr na 10m:")
note(10, 334, "poryw powyżej skali", "#ff0000", 11.3)
lead([(112, 335), (118, 335)], "#ff0000")
lead([(130, 335), (134, 330), (138, 317)], "#ff0000")
note(10, 349, "max porywy wiatru", "#ff0000", 11.4)
lead([(108, 349), (130, 349), (144, 340)], "#ff0000")
note(10, 368, "prędkość wiatru", "#0a0a96", 11.1)
lead([(92, 367), (135, 367)], "#0a0a96")
note(10, 381, "w środku obszaru", "#0a0a96", 11.3)
note(10, 409, "kierunek wiatru", "#0a0a96", 10.9)
lead([(86, 410), (137, 410)], "#0a0a96")
note(6, 429, "Wierzchołek chmur", "#a02020")
lead([(100, 430), (135, 430), (185, 447)], "#a02020")
note(6, 444, "Podstawa chmur*", size=10.8)
note(6, 456, "o pokryciu", size=10.8)
note(11, 468, "> 7.9 okt.", size=10.5)
lead([(57, 468), (120, 468), (191, 455)])
note(11, 479.5, "> 6.5 okt.", "#404040", 10.5)
lead([(57, 480), (143, 480)], "#404040")
note(11, 490.5, "> 4.5 okt.", "#969696", 10.5)
lead([(57, 490), (130, 490), (138, 500)], "#969696")
note(11, 500.5, "> 2.5 okt.", "#d8d8d8", 10.5)
lead([(57, 501), (130, 501), (137, 506)], "#d8d8d8")
page_rect(11, 505, 54, 517, "#87d2ff")
note(11, 511, "> 0.1 okt.", "white", 10.5)
lead([(57, 510), (135, 510)], "#87d2ff")
lead([(57, 512), (135, 512)], "#87d2ff")
note(6, 526, "Widzialność", ORANGE, 11.6)
lead([(67, 527), (127, 527), (172, 465)], ORANGE)
note(6, 543, "Chmury:", size=11)
page_rect(10, 551, 52, 563, "#87d2ff")
note(10, 556.5, "wysokie", "white", 11)
lead([(54, 556), (185, 556)], "#87d2ff")
lead([(54, 558), (135, 558)], "#87d2ff")
note(10, 569, "średnie", "#969696", 11)
lead([(56, 570), (190, 570)], "#969696")
note(10, 581, "niskie", "#404040", 11)
lead([(40, 581), (122, 581)], "#404040")
lead([(133, 583), (152, 583)], "#404040")
note(10, 593, "bardzo niskie", "#404040", 10.4)
lead([(74, 594), (140, 594)], "#404040")
note(6, 605, "Mgła", "#ffb400", 11)
lead([(27, 605), (215, 605), (218, 597)], "#ffb400")
note(6, 622, "Czas uniwersalny (UTC)", size=12)
lead([(139, 623), (148, 623), (157, 608)])
note(5, 648, "* powyżej poziomu morza", size=9.5)

# ---- banner text
note(292, 34, "Oficjalna aplikacja", "white", 20, family="Lato")
note(292, 62, "<b>Meteo ICM</b> do pobrania", "white", 20, family="Lato")
note(292, 90, "w Google Play i App Store", "white", 20, family="Lato")
note(575, 42, "25°", "#dfe8f5", 8, family="Lato")
note(695, 91, "<b>icmmeteo</b>", "white", 15.5, family="Lato")
note(781, 91, "<b>M°</b>", "#0c4c9e", 11, "center")

# ---- header of the right meteogram
note(280, 128, "wschód słońca: 05:41 CEST", NAVY, 12)
note(280, 141.5, "zachód słońca: 19:27 CEST", NAVY, 12)
note(551, 128, "21°43'31\"E, 53°59'46\"N", NAVY, 12, "center")
note(551, 141.5, "(x=261, y=355)", NAVY, 12, "center")
note(738, 128, "wysokość (min, środek, max)", NAVY, 12, "center")
note(738, 141.5, "121 - 141 - 157 m", NAVY, 12, "center")
note(463, 157.5, "sob, 11.04", "#202020", 12, "center")
note(632, 157.5, "nie, 12.04", "#202020", 12, "center")
note(320, 170, "CEST", "black", 12.5, "center")
note(781, 170, "CEST", "black", 12.5, "center")

# ---- rotated axis titles
for txt1, txt2, yc in [("temperatura", "(°C)", 217), ("opad", "(mm/h, kg/m²/h)", 305), ("ciśnienie", "(hPa)", 392), ("wiatr", "(m/s)", 482)]:
    note(289, yc, txt1, NAVY, 12.5, "center", -90)
    note(303, yc, txt2, NAVY, 12.5, "center", -90)
for txt1, txt2, yc in [("temperatura", "(°C)", 217), ("wilgotność wzgl.", "(%)", 305), ("ciśnienie", "(mm Hg)", 392), ("wiatr", "(km/h)", 482), ("widzialność", "(km)", 597)]:
    note(798, yc, txt2, NAVY, 12.5, "center", -90)
    note(812, yc, txt1, NAVY, 12.5, "center", -90)
note(289, 548, "podstawe pion. rozciągł. chm.", NAVY, 12.5, "center", -90, yanchor="top")
note(303, 597, "(km)", NAVY, 12.5, "center", -90)
for x0 in (0, 508):
    note(289 + x0, 535, "W", NAVY, 14, "center")
    note(300 + x0, 527, "N", NAVY, 14, "center")
    note(305 + x0, 535, "E", NAVY, 14, "center")
    note(297.5 + x0, 544, "S", NAVY, 14, "center")

fig.update_layout(template="none", width=W, height=H, margin=dict(l=0, r=0, t=0, b=0), paper_bgcolor="white", plot_bgcolor="rgba(0,0,0,0)",
                  font=dict(family=FONT, size=11, color="black"), showlegend=False, barmode="overlay", shapes=shapes,
                  annotations=notes, **layout)
fig.write_html("out.html", config={"displayModeBar": False}, post_script="document.body.style.margin='0';document.body.style.overflow='hidden';")
